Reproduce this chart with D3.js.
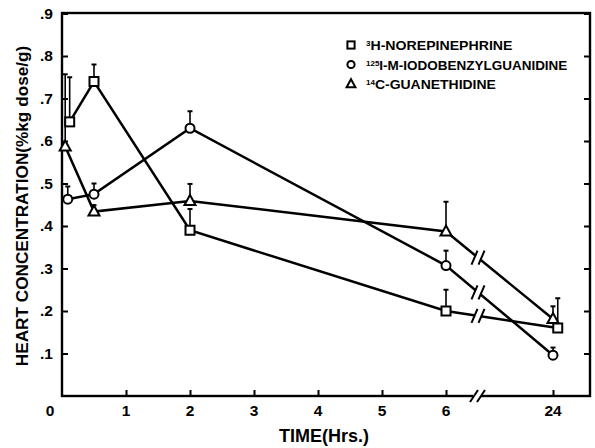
<!DOCTYPE html>
<html>
<head>
<meta charset="utf-8">
<script src="https://cdn.jsdelivr.net/npm/d3@7"></script>
<style>
  body { margin: 0; background: #fff; }
  svg { display: block; font-family: "Liberation Sans", Arial, sans-serif; font-weight: bold; }
</style>
</head>
<body>
<div id="container"></div>
<script>
// hours; the 24 h point sits after an axis break
const yTicks = [0.1, 0.2, 0.3, 0.4, 0.5, 0.6, 0.7, 0.8, 0.9];
const yTickLabels = [".1", ".2", ".3", ".4", ".5", ".6", ".7", ".8", ".9"];
const xTicks = [1, 2, 3, 4, 5, 6, 24];

// 3H-norepinephrine (squares)
const neTime = [0.12, 0.5, 2, 6, 24.8];
const neValue = [0.645, 0.74, 0.39, 0.20, 0.16];
const neErr = [0.105, 0.04, 0.05, 0.05, 0.07];

// 125I-MIBG (circles)
const mibgTime = [0.09, 0.5, 2, 6, 24];
const mibgValue = [0.463, 0.475, 0.63, 0.307, 0.096];
const mibgErr = [0.03, 0.025, 0.04, 0.035, 0.018];

// 14C-guanethidine (triangles)
const guanTime = [0.05, 0.5, 2, 6, 24];
const guanValue = [0.587, 0.434, 0.459, 0.387, 0.181];
const guanErr = [0.17, 0.015, 0.04, 0.07, 0.03];

const W = 595, H = 448;
const pLeft = 62, pRight = 590, pTop = 13, pBottom = 396;
const breakX = 478;

const svg = d3.select("#container").append("svg")
  .attr("width", W).attr("height", H);

const x = d3.scaleLinear().domain([0, 6, 24]).range([pLeft, 446, 553]);
const y = d3.scaleLinear().domain([0, 0.9]).range([pBottom, pTop + 0.5]);

// frame
svg.append("rect")
  .attr("x", pLeft).attr("y", pTop)
  .attr("width", pRight - pLeft).attr("height", pBottom - pTop)
  .attr("fill", "none").attr("stroke", "#000").attr("stroke-width", 2.4);

// y ticks, left and right, pointing inward
const yAxisL = svg.append("g").attr("transform", `translate(${pLeft},0)`)
  .call(d3.axisRight(y).tickValues(yTicks).tickSize(6).tickFormat(""));
const yAxisR = svg.append("g").attr("transform", `translate(${pRight},0)`)
  .call(d3.axisLeft(y).tickValues(yTicks).tickSize(6).tickFormat(""));
[yAxisL, yAxisR].forEach(g => {
  g.select(".domain").remove();
  g.selectAll("line").attr("stroke-width", 2);
});

svg.selectAll(".ylab").data(yTicks).enter().append("text")
  .attr("class", "ylab")
  .attr("x", pLeft - 9).attr("y", d => y(d) + 5)
  .attr("text-anchor", "end").attr("font-size", 15.5)
  .text((d, i) => yTickLabels[i]);

// x ticks pointing up
const xAxis = svg.append("g").attr("transform", `translate(0,${pBottom})`)
  .call(d3.axisTop(x).tickValues(xTicks).tickSize(6).tickFormat(""));
xAxis.select(".domain").remove();
xAxis.selectAll("line").attr("stroke-width", 2);

svg.selectAll(".xlab").data(xTicks).enter().append("text")
  .attr("class", "xlab")
  .attr("x", d => x(d)).attr("y", pBottom + 20)
  .attr("text-anchor", "middle").attr("font-size", 15.5)
  .text(d => d);
svg.append("text").attr("x", pLeft - 12).attr("y", pBottom + 20)
  .attr("text-anchor", "middle").attr("font-size", 15.5).text("0");

// axis break on the x axis
svg.append("rect").attr("x", breakX - 5).attr("y", pBottom - 3)
  .attr("width", 8).attr("height", 6).attr("fill", "#fff");
[-4, 3].forEach(dx => {
  svg.append("line")
    .attr("x1", breakX + dx - 4).attr("y1", pBottom + 6)
    .attr("x2", breakX + dx + 4).attr("y2", pBottom - 6)
    .attr("stroke", "#000").attr("stroke-width", 2);
});

// axis titles
svg.append("text")
  .attr("x", 324).attr("y", 442)
  .attr("text-anchor", "middle").attr("font-size", 18)
  .text("TIME(Hrs.)");
svg.append("text")
  .attr("transform", "translate(28,206) rotate(-90)")
  .attr("text-anchor", "middle").attr("font-size", 17.2)
  .text("HEART CONCENTRATION(%kg dose/g)");

const series = [
  {time: neTime, value: neValue, err: neErr, shape: "square"},
  {time: mibgTime, value: mibgValue, err: mibgErr, shape: "circle"},
  {time: guanTime, value: guanValue, err: guanErr, shape: "triangle"}
];

const line = d3.line().x(d => x(d.t)).y(d => y(d.v));

series.forEach(s => {
  const pts = s.time.map((t, i) => ({t: t, v: s.value[i], e: s.err[i]}));

  // error bars (upper only)
  pts.forEach(p => {
    svg.append("line")
      .attr("x1", x(p.t)).attr("x2", x(p.t))
      .attr("y1", y(p.v)).attr("y2", y(p.v + p.e))
      .attr("stroke", "#000").attr("stroke-width", 1.6);
    svg.append("line")
      .attr("x1", x(p.t) - 2.5).attr("x2", x(p.t) + 2.5)
      .attr("y1", y(p.v + p.e)).attr("y2", y(p.v + p.e))
      .attr("stroke", "#000").attr("stroke-width", 2);
  });

  svg.append("path").datum(pts)
    .attr("d", line)
    .attr("fill", "none").attr("stroke", "#000").attr("stroke-width", 2.5);

  // break marks on the 6 -> 24 segment
  const a = pts[3], b = pts[4];
  const f = (breakX - x(a.t)) / (x(b.t) - x(a.t));
  const by = y(a.v) + f * (y(b.v) - y(a.v));
  svg.append("circle").attr("cx", breakX).attr("cy", by).attr("r", 3).attr("fill", "#fff");
  [-3.5, 3.5].forEach(dx => {
    svg.append("line")
      .attr("x1", breakX + dx - 3).attr("y1", by + 7)
      .attr("x2", breakX + dx + 3).attr("y2", by - 7)
      .attr("stroke", "#000").attr("stroke-width", 2);
  });

  // markers
  pts.forEach(p => drawMarker(svg, s.shape, x(p.t), y(p.v), 1));
});

function drawMarker(g, shape, cx, cy, k) {
  if (shape === "square") {
    g.append("rect").attr("x", cx - 4.5 * k).attr("y", cy - 4.5 * k)
      .attr("width", 9 * k).attr("height", 9 * k)
      .attr("fill", "#fff").attr("stroke", "#000").attr("stroke-width", 2);
  } else if (shape === "circle") {
    g.append("circle").attr("cx", cx).attr("cy", cy).attr("r", 4.5 * k)
      .attr("fill", "#fff").attr("stroke", "#000").attr("stroke-width", 2);
  } else {
    g.append("path")
      .attr("d", `M${cx},${cy - 6 * k}L${cx + 5.5 * k},${cy + 4 * k}L${cx - 5.5 * k},${cy + 4 * k}Z`)
      .attr("fill", "#fff").attr("stroke", "#000").attr("stroke-width", 2);
  }
}

// legend
const legendItems = [
  {shape: "square", sup: "3", text: "H-NOREPINEPHRINE", y: 45, len: 142},
  {shape: "circle", sup: "125", text: "I-M-IODOBENZYLGUANIDINE", y: 64.5, len: 188},
  {shape: "triangle", sup: "14", text: "C-GUANETHIDINE", y: 84, len: 121}
];
legendItems.forEach(it => {
  drawMarker(svg, it.shape, 351, it.y, 0.8);
  const t = svg.append("text").attr("x", 366).attr("y", it.y + 5).attr("font-size", 12.5);
  t.append("tspan").attr("font-size", 8).attr("dy", -4).text(it.sup);
  t.append("tspan").attr("dy", 4)
    .attr("textLength", it.len).attr("lengthAdjust", "spacingAndGlyphs")
    .text(it.text);
});
</script>
</body>
</html>
